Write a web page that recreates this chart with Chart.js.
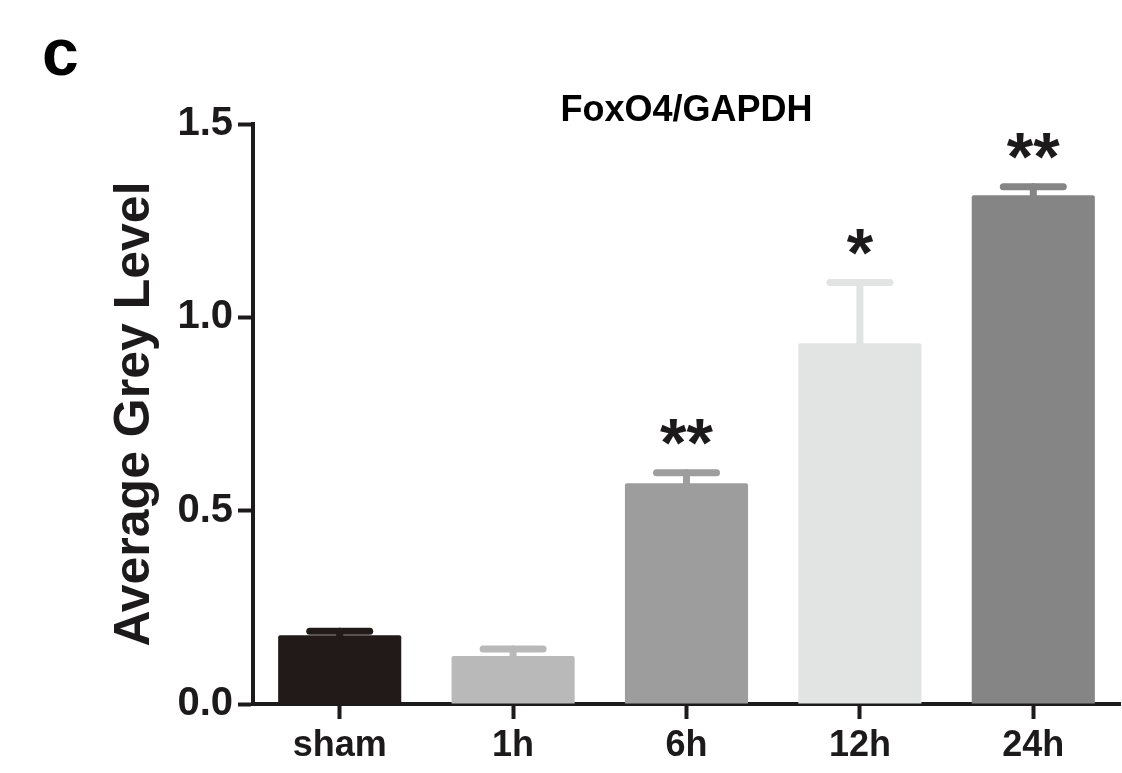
<!DOCTYPE html>
<html>
<head>
<meta charset="utf-8">
<script src="https://cdn.jsdelivr.net/npm/chart.js@4"></script>
<style>
  html, body { margin: 0; padding: 0; background: #ffffff; }
  #wrap { width: 1122px; height: 773px; }
</style>
</head>
<body>
<div id="wrap"><canvas id="graphique" width="1122" height="773"></canvas></div>
<script>
const categories = ["sham", "1h", "6h", "12h", "24h"];
const means = [0.178, 0.124, 0.571, 0.933, 1.316];
const sems = [0.010, 0.018, 0.027, 0.157, 0.022];
const marks = ["", "", "**", "*", "**"];
const yTicks = [0, 0.5, 1.0, 1.5];
const barColors = ["#221a18", "#b9b9b9", "#9d9d9d", "#e2e3e3", "#858585"];

const FONT = "'Liberation Sans', Arial, sans-serif";
const INK = "#1c1a1a";

// barres d'erreur (SEM vers le haut), étoiles et lettre du panneau
const extras = {
    id: "extras",
    afterDatasetsDraw(chart) {
        const { ctx, scales: { x, y } } = chart;
        const meta = chart.getDatasetMeta(0);
        ctx.save();
        meta.data.forEach((bar, i) => {
            const top = y.getPixelForValue(means[i] + sems[i]);
            const base = y.getPixelForValue(means[i]);
            ctx.strokeStyle = barColors[i];
            ctx.lineCap = "round";
            ctx.lineWidth = 7;
            ctx.beginPath();
            ctx.moveTo(bar.x, base);
            ctx.lineTo(bar.x, top);
            ctx.stroke();
            ctx.beginPath();
            ctx.moveTo(bar.x - 30, top);
            ctx.lineTo(bar.x + 30, top);
            ctx.stroke();

            if (marks[i]) {
                ctx.fillStyle = INK;
                ctx.font = "bold 68px " + FONT;
                ctx.textAlign = "center";
                ctx.textBaseline = "alphabetic";
                ctx.fillText(marks[i], bar.x, top - 7);
            }
        });
        ctx.fillStyle = "#000";
        ctx.font = "bold 66px " + FONT;
        ctx.textAlign = "left";
        ctx.textBaseline = "alphabetic";
        ctx.fillText("c", 42, 75);
        ctx.restore();
    }
};

new Chart(document.getElementById("graphique").getContext("2d"), {
    type: "bar",
    data: {
        labels: categories,
        datasets: [{
            data: means,
            backgroundColor: barColors,
            borderRadius: 2,
            borderSkipped: "bottom",
            categoryPercentage: 1,
            barPercentage: 0.71
        }]
    },
    options: {
        responsive: false,
        animation: false,
        layout: { padding: { left: 0, right: 2, top: 0, bottom: 0 } },
        plugins: {
            legend: { display: false },
            tooltip: { enabled: false },
            title: {
                display: true,
                text: "FoxO4/GAPDH",
                fullSize: false,
                color: "#000",
                font: { family: FONT, size: 36, weight: "bold", lineHeight: 0.7 },
                padding: { top: 98.8, bottom: 0 }
            }
        },
        scales: {
            x: {
                afterFit(scale) { scale.height = 69; },
                border: { display: true, color: INK, width: 4 },
                grid: {
                    offset: false,
                    drawOnChartArea: false,
                    drawTicks: true,
                    tickLength: 15,
                    tickWidth: 4,
                    tickColor: INK
                },
                ticks: {
                    color: INK,
                    padding: 5,
                    font: { family: FONT, size: 36, weight: "bold" }
                }
            },
            y: {
                min: 0,
                max: 1.5,
                afterFit(scale) { scale.width = 253; },
                afterBuildTicks(scale) { scale.ticks = yTicks.map(v => ({ value: v })); },
                border: { display: true, color: INK, width: 4 },
                grid: {
                    drawOnChartArea: false,
                    drawTicks: true,
                    tickLength: 15,
                    tickWidth: 4,
                    tickColor: INK
                },
                ticks: {
                    color: INK,
                    padding: 5,
                    callback: (v) => Number(v).toFixed(1),
                    font: { family: FONT, size: 40, weight: "bold" }
                },
                title: {
                    display: true,
                    text: "Average Grey Level",
                    color: INK,
                    font: { family: FONT, size: 50, weight: "bold", lineHeight: 1.2 },
                    padding: { top: 105, bottom: 0 }
                }
            }
        }
    },
    plugins: [extras]
});
</script>
</body>
</html>
